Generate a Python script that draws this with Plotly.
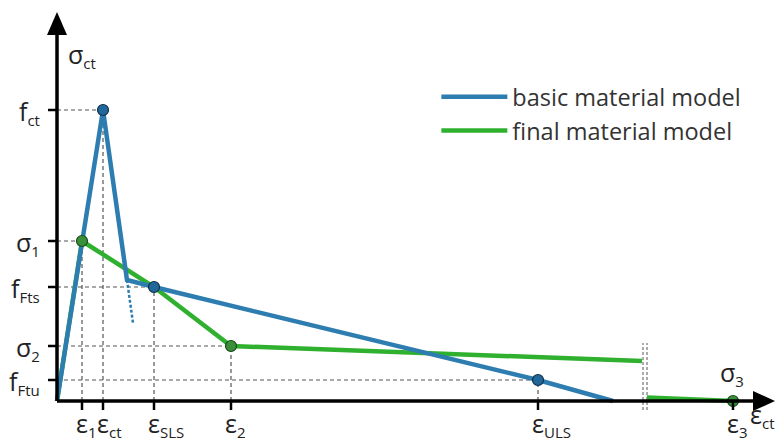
import plotly.graph_objects as go

# ---- data (strain / stress in arbitrary schematic units) ----
eps_1, eps_ct, eps_sls, eps_2, eps_uls, eps_3 = 0.25, 0.46, 0.97, 1.74, 4.81, 6.76
f_ct, sigma_1, f_Fts, sigma_2, f_Ftu, sigma_3 = 2.91, 1.60, 1.14, 0.55, 0.21, 0.0

basic_x = [0.0, eps_ct, 0.70, eps_sls, eps_uls, 5.56]
basic_y = [0.0, f_ct, 1.21, f_Fts, f_Ftu, 0.0]
basic_soft_x = [0.70, 0.76]
basic_soft_y = [1.21, 0.78]
basic_pts_x = [eps_ct, eps_sls, eps_uls]
basic_pts_y = [f_ct, f_Fts, f_Ftu]

final_x = [0.0, eps_1, eps_sls, eps_2, 5.85]
final_y = [0.0, sigma_1, f_Fts, sigma_2, 0.40]
final_tail_x = [5.90, eps_3]
final_tail_y = [0.035, sigma_3]
final_pts_x = [eps_1, eps_2, eps_3]
final_pts_y = [sigma_1, sigma_2, sigma_3]

break_x = [5.86, 5.90]


def lab(main, sub):
    return f"{main}<sub><span style='font-size:15px'>{sub}</span></sub>"


y_ticks = [f_ct, sigma_1, f_Fts, sigma_2, f_Ftu]
y_labels = [lab("f", "ct"), lab("σ", "1"), lab("f", "Fts"), lab("σ", "2"), lab("f", "Ftu")]
x_ticks = [eps_1, eps_ct, eps_sls, eps_2, eps_uls, eps_3]
x_labels = [lab("ε", "1"), lab("ε", "ct"), lab("ε", "SLS"), lab("ε", "2"), lab("ε", "ULS"), lab("ε", "3")]
guide_pts = [(eps_ct, f_ct), (eps_1, sigma_1), (eps_sls, f_Fts), (eps_2, sigma_2), (eps_uls, f_Ftu)]

BLUE = "#2e7db0"
GREEN = "#2fb02f"
FONT = "Open Sans"

fig = go.Figure()

fig.add_trace(go.Scatter(x=final_x, y=final_y, mode="lines",
                         line=dict(color=GREEN, width=4.5),
                         name="final material model", legendrank=2))
fig.add_trace(go.Scatter(x=final_tail_x, y=final_tail_y, mode="lines",
                         line=dict(color=GREEN, width=4.5),
                         showlegend=False, hoverinfo="skip"))
fig.add_trace(go.Scatter(x=basic_x, y=basic_y, mode="lines",
                         line=dict(color=BLUE, width=4.5),
                         name="basic material model", legendrank=1))
fig.add_trace(go.Scatter(x=basic_soft_x, y=basic_soft_y, mode="lines",
                         line=dict(color=BLUE, width=2.5, dash="3px,2px"),
                         showlegend=False, hoverinfo="skip"))
fig.add_trace(go.Scatter(x=final_pts_x, y=final_pts_y, mode="markers",
                         marker=dict(size=11, color="#3a8f3a",
                                     line=dict(color="#1c4a1c", width=1.2)),
                         showlegend=False, cliponaxis=False))
fig.add_trace(go.Scatter(x=basic_pts_x, y=basic_pts_y, mode="markers",
                         marker=dict(size=11, color="#22679a",
                                     line=dict(color="#0f2f4a", width=1.2)),
                         showlegend=False, cliponaxis=False))

shapes = []
dash_line = dict(color="#555555", width=1.2, dash="4px,3px")
for px, py in guide_pts:
    shapes.append(dict(type="line", xref="x", yref="y", x0=0, x1=px, y0=py, y1=py,
                       line=dash_line, layer="below"))
    shapes.append(dict(type="line", xref="x", yref="y", x0=px, x1=px, y0=0, y1=py,
                       line=dash_line, layer="below"))
for bx in break_x:
    shapes.append(dict(type="line", xref="x", yref="y", x0=bx, x1=bx, y0=-0.09, y1=0.58,
                       line=dict(color="#666666", width=1.1, dash="3px,2px"), layer="below"))
shapes.append(dict(type="line", xref="x", yref="y", x0=0, x1=7.0, y0=0, y1=0,
                   line=dict(color="black", width=3.5)))
shapes.append(dict(type="line", xref="x", yref="y", x0=0, x1=0, y0=0, y1=3.7,
                   line=dict(color="black", width=3.5)))
shapes.append(dict(type="path", xref="x", yref="y",
                   path="M -0.10 3.66 L 0.10 3.66 L 0 3.89 Z",
                   fillcolor="black", line=dict(color="black", width=0)))
shapes.append(dict(type="path", xref="x", yref="y",
                   path="M 6.96 0.10 L 6.96 -0.10 L 7.18 0 Z",
                   fillcolor="black", line=dict(color="black", width=0)))
for ty in y_ticks:
    shapes.append(dict(type="line", xref="x", yref="y", x0=-0.09, x1=0, y0=ty, y1=ty,
                       line=dict(color="black", width=2.5)))
for tx in x_ticks:
    shapes.append(dict(type="line", xref="x", yref="y", x0=tx, x1=tx, y0=-0.09, y1=0,
                       line=dict(color="black", width=2.5)))

annotations = []
lab_font = dict(family=FONT, size=25, color="#222222")
for ty, t in zip(y_ticks, y_labels):
    annotations.append(dict(x=0, y=ty, xref="x", yref="y", text=t, showarrow=False,
                            xanchor="right", yanchor="middle", xshift=-15, yshift=-2,
                            font=lab_font))
for tx, t in zip(x_ticks, x_labels):
    annotations.append(dict(x=tx, y=0, xref="x", yref="y", text=t, showarrow=False,
                            xanchor="left", yanchor="top", xshift=-8, yshift=-3,
                            font=lab_font))
annotations.append(dict(x=0, y=3.46, xref="x", yref="y", text=lab("σ", "ct"),
                        showarrow=False, xanchor="left", yanchor="middle", xshift=9,
                        font=lab_font))
annotations.append(dict(x=7.0, y=0, xref="x", yref="y", text=lab("ε", "ct"),
                        showarrow=False, xanchor="left", yanchor="top", xshift=-9, yshift=6,
                        font=lab_font))
annotations.append(dict(x=eps_3, y=sigma_3, xref="x", yref="y", text=lab("σ", "3"),
                        showarrow=False, xanchor="left", yanchor="bottom", xshift=-15, yshift=8,
                        font=lab_font))

# page body has an 8px margin: figure is 776x433 placed at (8, 8)
fig.update_layout(
    width=776, height=433,
    margin=dict(l=0, r=0, t=0, b=0),
    paper_bgcolor="white", plot_bgcolor="white",
    xaxis=dict(range=[-0.49, 7.27], visible=False, fixedrange=True),
    yaxis=dict(range=[-0.40, 3.93], visible=False, fixedrange=True),
    shapes=shapes,
    annotations=annotations,
    showlegend=True,
    legend=dict(x=0.552, y=0.755, xanchor="left", yanchor="middle",
                font=dict(family=FONT, size=23.5, color="#333333"),
                bgcolor="rgba(0,0,0,0)", tracegroupgap=0, itemwidth=66),
)

fig.write_html("out.html")
